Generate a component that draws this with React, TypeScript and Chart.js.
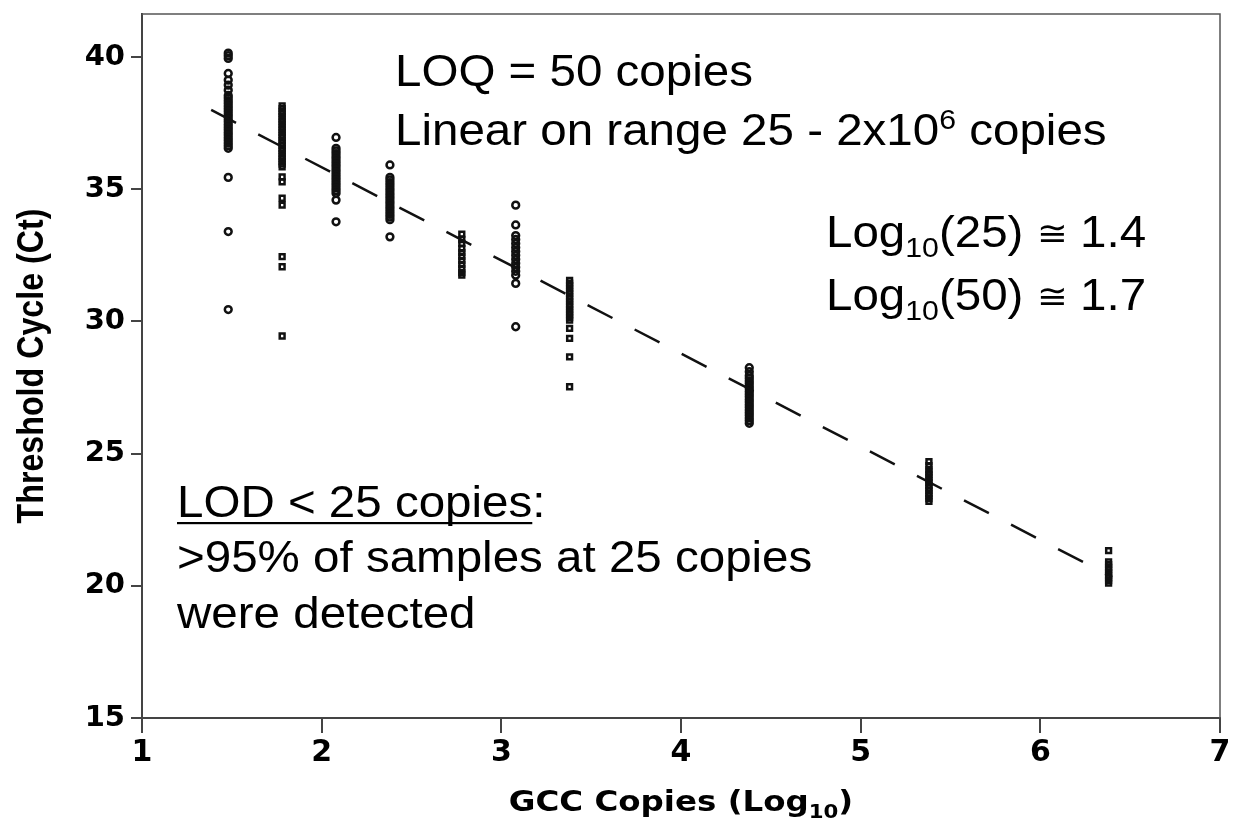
import React, { useEffect, useRef } from "react";
import { Chart, registerables } from "chart.js";

Chart.register(...registerables);

// Concentrations (log10 copies) for each replicate column
const circleConc = [1.48, 2.08, 2.38, 3.08, 4.38];
const squareConc = [1.78, 2.78, 3.38, 5.38, 6.38];

// Ct values read per column (dense runs are read as closely stacked replicates)
const ct148 = [40.15, 40.05, 39.95, 39.38, 39.13, 38.94, 38.75, 38.55, 38.45, 38.35, 38.25, 38.15, 38.05, 37.95, 37.85, 37.75, 37.65, 37.55, 37.45, 37.35, 37.25, 37.15, 37.05, 36.95, 36.85, 36.75, 36.65, 36.55, 35.45, 33.4, 30.45];
const ct178 = [38.15, 38.05, 37.95, 37.85, 37.75, 37.65, 37.55, 37.45, 37.35, 37.25, 37.15, 37.05, 36.95, 36.85, 36.75, 36.65, 36.55, 36.45, 36.35, 36.25, 36.15, 36.05, 35.95, 35.85, 35.47, 35.28, 34.66, 34.4, 32.45, 32.07, 29.45];
const ct208 = [36.96, 36.55, 36.45, 36.35, 36.25, 36.15, 36.05, 35.95, 35.85, 35.75, 35.65, 35.55, 35.45, 35.35, 35.25, 35.15, 35.05, 34.95, 34.85, 34.59, 33.77];
const ct238 = [35.92, 35.45, 35.35, 35.25, 35.15, 35.05, 34.95, 34.85, 34.75, 34.65, 34.55, 34.45, 34.35, 34.25, 34.15, 34.05, 33.95, 33.85, 33.2];
const ct278 = [33.3, 33.1, 32.95, 32.75, 32.6, 32.45, 32.3, 32.15, 32.0, 31.85, 31.75];
const ct308 = [34.4, 33.65, 33.25, 33.1, 32.95, 32.8, 32.65, 32.5, 32.35, 32.2, 32.05, 31.9, 31.75, 31.44, 29.8];
const ct338 = [31.55, 31.45, 31.35, 31.25, 31.15, 31.05, 30.95, 30.85, 30.75, 30.65, 30.55, 30.45, 30.35, 30.25, 30.15, 30.05, 29.74, 29.36, 28.66, 27.53];
const ct438 = [28.25, 28.1, 27.95, 27.85, 27.75, 27.65, 27.55, 27.45, 27.35, 27.25, 27.15, 27.05, 26.95, 26.85, 26.75, 26.65, 26.55, 26.45, 26.35, 26.25, 26.15];
const ct538 = [24.7, 24.55, 24.4, 24.3, 24.2, 24.1, 24.0, 23.9, 23.8, 23.7, 23.6, 23.5, 23.4, 23.3, 23.2];
const ct638 = [21.33, 20.9, 20.8, 20.7, 20.6, 20.5, 20.4, 20.3, 20.2, 20.1];

const circleCt = [ct148, ct208, ct238, ct308, ct438];
const squareCt = [ct178, ct278, ct338, ct538, ct638];

// Fitted regression line end points
const fitX = [1.385, 6.4];
const fitY = [38.0, 20.33];

// Axis ticks
const yTicks = [15, 20, 25, 30, 35, 40];
const xTicks = [1, 2, 3, 4, 5, 6, 7];

// Annotation texts
const loqText = "LOQ = 50 copies";
const linearText = ["Linear on range 25 - 2x10", "6", " copies"];
const log25Text = ["Log", "10", "(25) ", "\u2245", " 1.4"];
const log50Text = ["Log", "10", "(50) ", "\u2245", " 1.7"];
const lodText = ["LOD < 25 copies", ":"];
const lodLine2 = ">95% of samples at 25 copies";
const lodLine3 = "were detected";
const xTitle = ["GCC Copies (Log", "10", ")"];
const yTitle = "Threshold Cycle (Ct)";

type Run = { text: string; size: number; dy?: number; underline?: boolean; bold?: boolean; family?: string };

function drawRuns(ctx: CanvasRenderingContext2D, x: number, y: number, runs: Run[], scaleX: number, align: "left" | "center" = "left") {
  ctx.save();
  ctx.textBaseline = "alphabetic";
  ctx.textAlign = "left";
  const fontOf = (r: Run) => `${r.bold ? "bold " : ""}${r.size}px ${r.family || '"Liberation Sans", Arial, sans-serif'}`;
  let total = 0;
  for (const r of runs) {
    ctx.font = fontOf(r);
    total += ctx.measureText(r.text).width;
  }
  ctx.translate(align === "center" ? x - (total * scaleX) / 2 : x, y);
  ctx.scale(scaleX, 1);
  let cx = 0;
  for (const r of runs) {
    ctx.font = fontOf(r);
    ctx.fillStyle = "#000";
    ctx.fillText(r.text, cx, r.dy || 0);
    const w = ctx.measureText(r.text).width;
    if (r.underline) ctx.fillRect(cx, 5, w, 2.2);
    cx += w;
  }
  ctx.restore();
}

const annotationPlugin = {
  id: "annotations",
  afterDraw(chart: any) {
    const ctx: CanvasRenderingContext2D = chart.ctx;
    const a = chart.chartArea;
    // top and right frame lines
    ctx.save();
    ctx.strokeStyle = "#555";
    ctx.lineWidth = 1.5;
    ctx.beginPath();
    ctx.moveTo(a.left, a.top);
    ctx.lineTo(a.right, a.top);
    ctx.lineTo(a.right, a.bottom);
    ctx.stroke();
    ctx.restore();

    const S = 44;
    const sx = 1.08;
    const logRuns = (t: string[]) => [
      { text: t[0], size: S },
      { text: t[1], size: 28, dy: 10 },
      { text: t[2], size: S },
      { text: t[3], size: 34, dy: -2 },
      { text: t[4], size: S },
    ];
    drawRuns(ctx, 395, 86, [{ text: loqText, size: S }], sx);
    drawRuns(ctx, 395, 145, [
      { text: linearText[0], size: S },
      { text: linearText[1], size: 28, dy: -16 },
      { text: linearText[2], size: S },
    ], sx);
    drawRuns(ctx, 826, 247, logRuns(log25Text), sx);
    drawRuns(ctx, 826, 310, logRuns(log50Text), sx);
    drawRuns(ctx, 177, 517, [
      { text: lodText[0], size: S, underline: true },
      { text: lodText[1], size: S },
    ], sx);
    drawRuns(ctx, 177, 572, [{ text: lodLine2, size: S }], sx);
    drawRuns(ctx, 177, 628, [{ text: lodLine3, size: S }], sx);

    // axis titles
    const fam = '"DejaVu Sans", sans-serif';
    drawRuns(ctx, (a.left + a.right) / 2, 811, [
      { text: xTitle[0], size: 29, bold: true, family: fam },
      { text: xTitle[1], size: 19, bold: true, family: fam, dy: 7 },
      { text: xTitle[2], size: 29, bold: true, family: fam },
    ], 1.12, "center");

    ctx.save();
    ctx.translate(43, (a.top + a.bottom) / 2);
    ctx.rotate(-Math.PI / 2);
    drawRuns(ctx, 0, 0, [{ text: yTitle, size: 37, bold: true }], 0.87, "center");
    ctx.restore();
  },
};

export default function App() {
  const ref = useRef<HTMLCanvasElement | null>(null);
  useEffect(() => {
    if (!ref.current) return;
    const mk = (concs: number[], vals: number[][]) =>
      concs.flatMap((c, i) => vals[i].map((v) => ({ x: c, y: v })));
    const chart = new Chart(ref.current, {
      type: "scatter",
      data: {
        datasets: [
          {
            type: "line",
            label: "fit",
            data: fitX.map((x, i) => ({ x, y: fitY[i] })),
            borderColor: "#111",
            borderWidth: 2.5,
            borderDash: [28, 25],
            pointRadius: 0,
            fill: false,
          } as any,
          {
            label: "circles",
            data: mk(circleConc, circleCt),
            pointStyle: "circle",
            pointRadius: 3.4,
            borderWidth: 2.5,
            borderColor: "#111",
            backgroundColor: "rgba(255,255,255,0)",
          },
          {
            label: "squares",
            data: mk(squareConc, squareCt),
            pointStyle: "rect",
            pointRadius: 3.4,
            borderWidth: 2.5,
            borderColor: "#111",
            backgroundColor: "rgba(255,255,255,0)",
          },
        ],
      },
      options: {
        responsive: false,
        animation: false,
        layout: { padding: { top: 14, right: 13, left: 0, bottom: 0 }, autoPadding: false } as any,
        plugins: { legend: { display: false }, tooltip: { enabled: false } },
        scales: {
          x: {
            type: "linear",
            min: 1,
            max: 7,
            afterFit: (s: any) => { s.height = 101; s.paddingLeft = 0; s.paddingRight = 0; },
            afterBuildTicks: (s: any) => { s.ticks = xTicks.map((v) => ({ value: v })); },
            ticks: {
              stepSize: 1,
              color: "#000",
              padding: 2,
              font: { family: '"DejaVu Sans", sans-serif', size: 30, weight: "bold" },
            },
            grid: { drawOnChartArea: false, drawTicks: true, tickLength: 15, color: "#444", lineWidth: 2 },
            border: { display: true, color: "#444", width: 2 },
          },
          y: {
            type: "linear",
            min: 15,
            max: 41.63,
            afterFit: (s: any) => { s.width = 142; s.paddingTop = 0; s.paddingBottom = 0; },
            afterBuildTicks: (s: any) => { s.ticks = yTicks.map((v) => ({ value: v })); },
            ticks: {
              stepSize: 5,
              color: "#000",
              padding: 6,
              font: { family: '"DejaVu Sans", sans-serif', size: 29, weight: "bold" },
            },
            grid: { drawOnChartArea: false, drawTicks: true, tickLength: 11, color: "#444", lineWidth: 2 },
            border: { display: true, color: "#444", width: 2 },
          },
        },
      },
      plugins: [annotationPlugin],
    });
    return () => chart.destroy();
  }, []);
  return (
    <div style={{ position: "fixed", left: 0, top: 0, width: 1233, height: 819, background: "#fff" }}>
      <canvas ref={ref} width={1233} height={819} style={{ display: "block" }} />
    </div>
  );
}
